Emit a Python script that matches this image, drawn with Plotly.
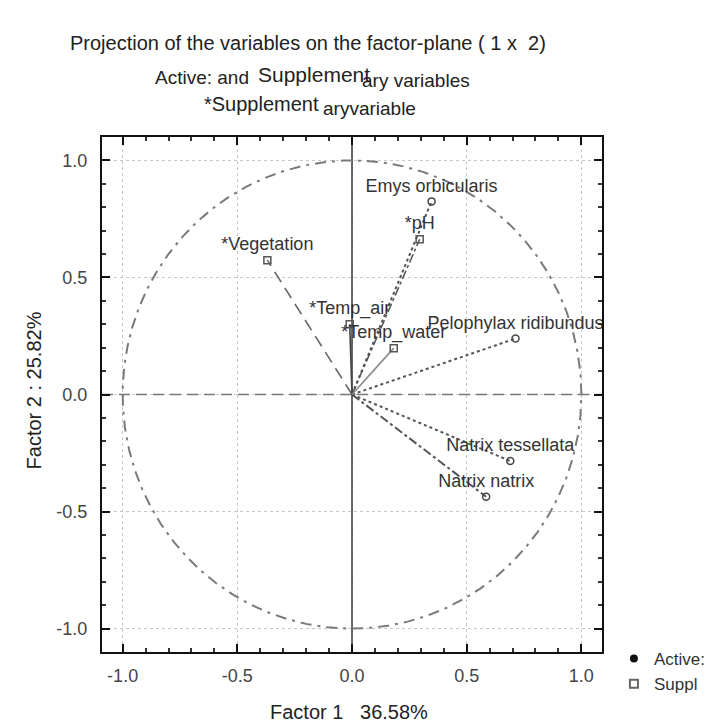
import numpy as np
import plotly.graph_objects as go

# Active variables: coordinates on factors 1 and 2
active_names = ["Emys orbicularis", "Pelophylax ridibundus", "Natrix tessellata", "Natrix natrix"]
active_f1 = [0.347, 0.713, 0.690, 0.585]
active_f2 = [0.825, 0.239, -0.284, -0.437]
active_dash = ["dot", "dot", "dot", "dashdot"]

# Supplementary variables
supp_names = ["*pH", "*Vegetation", "*Temp_air", "*Temp_water"]
supp_f1 = [0.295, -0.369, -0.010, 0.182]
supp_f2 = [0.663, 0.574, 0.300, 0.198]
supp_dash = ["dashdot", "12px,7px", "solid", "solid"]
supp_color = ["#555555", "#666666", "#444444", "#888888"]

tick_vals = [-1.0, -0.5, 0.0, 0.5, 1.0]
tick_text = ["-1.0", "-0.5", "0.0", "0.5", "1.0"]
x_range = [-1.09, 1.09]
y_range = [-1.1, 1.1]

FONT = "Arial, Liberation Sans, sans-serif"
TXT = "#333333"

fig = go.Figure()

# axis lines through the origin
fig.add_trace(go.Scatter(x=x_range, y=[0, 0], mode="lines",
                         line=dict(color="#777777", width=1.6, dash="11px,6px"),
                         hoverinfo="skip", showlegend=False))
fig.add_trace(go.Scatter(x=[0, 0], y=y_range, mode="lines",
                         line=dict(color="#444444", width=1.6),
                         hoverinfo="skip", showlegend=False))

# unit circle of correlations
theta = np.linspace(0, 2 * np.pi, 721)
fig.add_trace(go.Scatter(
    x=np.cos(theta), y=np.sin(theta), mode="lines",
    line=dict(color="#7a7a7a", width=2, dash="11px,6px,3px,6px"),
    hoverinfo="skip", showlegend=False))

# vectors from the origin
for name, x, y, d in zip(active_names, active_f1, active_f2, active_dash):
    fig.add_trace(go.Scatter(x=[0, x], y=[0, y], mode="lines",
                             line=dict(color="#555555", width=2, dash=d),
                             hoverinfo="skip", showlegend=False))
for name, x, y, d, c in zip(supp_names, supp_f1, supp_f2, supp_dash, supp_color):
    fig.add_trace(go.Scatter(x=[0, x], y=[0, y], mode="lines",
                             line=dict(color=c, width=1.6, dash=d),
                             hoverinfo="skip", showlegend=False))

# points with labels
fig.add_trace(go.Scatter(
    x=active_f1, y=active_f2, text=active_names, mode="markers+text",
    textposition="top center", cliponaxis=True,
    textfont=dict(family=FONT, size=18, color=TXT),
    marker=dict(symbol="circle-open", size=7, color="#444444", line=dict(width=1.5)),
    showlegend=False))
fig.add_trace(go.Scatter(
    x=supp_f1, y=supp_f2, text=supp_names, mode="markers+text",
    textposition="top center", cliponaxis=True,
    textfont=dict(family=FONT, size=18, color=TXT),
    marker=dict(symbol="square-open", size=7, color="#555555", line=dict(width=1.5)),
    showlegend=False))

# legend entries
fig.add_trace(go.Scatter(x=[None], y=[None], mode="markers", name="Active:",
                         marker=dict(symbol="circle", size=8, color="#111111")))
fig.add_trace(go.Scatter(x=[None], y=[None], mode="markers", name="Suppl",
                         marker=dict(symbol="square-open", size=8, color="#666666",
                                     line=dict(width=2))))

axis_common = dict(
    tickvals=tick_vals, ticktext=tick_text,
    showgrid=True, gridcolor="#c8c8c8", griddash="dot", gridwidth=1,
    zeroline=False, showline=True, mirror="ticks", linecolor="#111111", linewidth=2,
    ticks="inside", ticklen=8, tickcolor="#111111", tickwidth=1.5,
    minor=dict(ticks="inside", ticklen=4, dtick=0.1, tickcolor="#333333", showgrid=False),
    tickfont=dict(family=FONT, size=18, color="#444444"),
)

fig.update_xaxes(range=x_range, ticklabelstandoff=6, **axis_common)
fig.update_yaxes(range=y_range, ticklabelstandoff=9, **axis_common)

px_x = lambda p: (p - 102) / 503
px_y = lambda p: (652 - p) / 515


def text_ann(text, x, y, size, xanchor="left", angle=0):
    fig.add_annotation(text=text, x=x, y=y, textangle=angle,
                       xref="paper", yref="paper", xanchor=xanchor, yanchor="middle",
                       showarrow=False, font=dict(family=FONT, size=size, color="#222222"))


# three-line heading
text_ann("Projection of the variables on the factor-plane ( 1 x  2)", px_x(68), px_y(43), 20)
text_ann("Active: and ", px_x(257), px_y(77), 19, xanchor="right")
text_ann("Supplement", px_x(257), px_y(74), 21)
text_ann("ary variables", px_x(362), px_y(80), 19)
text_ann("*Supplement", px_x(322), px_y(104), 20, xanchor="right")
text_ann("aryvariable", px_x(322), px_y(109), 19)

# axis titles
text_ann("Factor 1   36.58%", px_x(350), px_y(712), 20, xanchor="center")
text_ann("Factor 2 : 25.82%", px_x(34), px_y(390), 20, xanchor="center", angle=-90)

fig.update_layout(
    width=723, height=722,
    margin=dict(l=102, r=118, t=137, b=70),
    paper_bgcolor="white", plot_bgcolor="white",
    showlegend=True,
    legend=dict(x=px_x(617), y=px_y(641), xanchor="left", yanchor="top",
                font=dict(family=FONT, size=17, color="#333333"),
                bgcolor="rgba(0,0,0,0)", tracegroupgap=0, itemwidth=30),
)

fig.write_html("out.html")
